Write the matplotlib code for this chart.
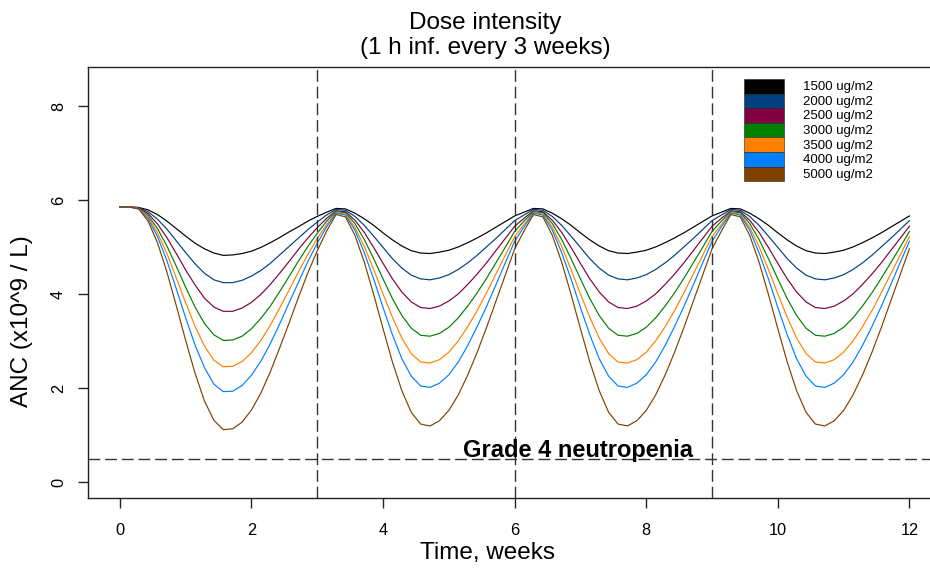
import numpy as np
import matplotlib
matplotlib.use("Agg")
from matplotlib import pyplot as plt
from matplotlib.patches import Rectangle

plt.rcParams['font.family'] = ['Liberation Sans', 'DejaVu Sans']

# time grid: one point per day over 12 weeks
weeks = np.arange(85) / 7

dose_labels = ["1500 ug/m2", "2000 ug/m2", "2500 ug/m2", "3000 ug/m2",
               "3500 ug/m2", "4000 ug/m2", "5000 ug/m2"]
dose_colors = ['#000000', '#004080', '#800040', '#008000', '#FF8000', '#0080FF', '#804000']

# ANC values (x10^9 / L), one row per 3-week cycle
anc_1500 = [5.86, 5.86, 5.85, 5.80, 5.70, 5.56, 5.40, 5.24, 5.09, 4.97, 4.88, 4.83, 4.84, 4.87, 4.92, 5.00, 5.10, 5.21, 5.33, 5.44, 5.56,
            5.66, 5.75, 5.83, 5.82, 5.73, 5.61, 5.47, 5.31, 5.16, 5.03, 4.93, 4.88, 4.87, 4.90, 4.94, 5.01, 5.10, 5.20, 5.31, 5.43, 5.55,
            5.67, 5.75, 5.83, 5.82, 5.73, 5.61, 5.47, 5.31, 5.16, 5.03, 4.93, 4.88, 4.87, 4.90, 4.94, 5.01, 5.10, 5.20, 5.31, 5.43, 5.55,
            5.67, 5.75, 5.83, 5.82, 5.73, 5.61, 5.47, 5.31, 5.16, 5.03, 4.93, 4.88, 4.87, 4.90, 4.94, 5.01, 5.10, 5.20, 5.31, 5.43, 5.55,
            5.67]
anc_2000 = [5.86, 5.86, 5.85, 5.76, 5.60, 5.39, 5.14, 4.89, 4.65, 4.45, 4.31, 4.25, 4.25, 4.30, 4.39, 4.51, 4.66, 4.84, 5.02, 5.20, 5.38,
            5.54, 5.69, 5.81, 5.79, 5.66, 5.47, 5.24, 5.00, 4.76, 4.56, 4.41, 4.33, 4.31, 4.35, 4.42, 4.53, 4.67, 4.83, 5.01, 5.19, 5.38,
            5.57, 5.69, 5.81, 5.79, 5.66, 5.47, 5.24, 5.00, 4.76, 4.56, 4.41, 4.33, 4.31, 4.35, 4.42, 4.53, 4.67, 4.83, 5.01, 5.19, 5.38,
            5.57, 5.69, 5.81, 5.79, 5.66, 5.47, 5.24, 5.00, 4.76, 4.56, 4.41, 4.33, 4.31, 4.35, 4.42, 4.53, 4.67, 4.83, 5.01, 5.19, 5.38,
            5.57]
anc_2500 = [5.86, 5.86, 5.84, 5.72, 5.50, 5.21, 4.87, 4.52, 4.20, 3.92, 3.73, 3.64, 3.64, 3.71, 3.83, 4.00, 4.21, 4.45, 4.70, 4.96, 5.20,
            5.42, 5.62, 5.78, 5.76, 5.58, 5.32, 5.00, 4.66, 4.33, 4.05, 3.84, 3.72, 3.70, 3.75, 3.86, 4.01, 4.21, 4.43, 4.67, 4.93, 5.19,
            5.45, 5.62, 5.78, 5.76, 5.58, 5.32, 5.00, 4.66, 4.33, 4.05, 3.84, 3.72, 3.70, 3.75, 3.86, 4.01, 4.21, 4.43, 4.67, 4.93, 5.19,
            5.45, 5.62, 5.78, 5.76, 5.58, 5.32, 5.00, 4.66, 4.33, 4.05, 3.84, 3.72, 3.70, 3.75, 3.86, 4.01, 4.21, 4.43, 4.67, 4.93, 5.19,
            5.45]
anc_3000 = [5.86, 5.86, 5.83, 5.68, 5.40, 5.03, 4.60, 4.15, 3.73, 3.38, 3.14, 3.02, 3.03, 3.11, 3.27, 3.49, 3.75, 4.06, 4.38, 4.71, 5.02,
            5.30, 5.56, 5.76, 5.74, 5.51, 5.17, 4.76, 4.33, 3.91, 3.55, 3.28, 3.13, 3.11, 3.17, 3.30, 3.50, 3.75, 4.03, 4.34, 4.67, 5.00,
            5.34, 5.56, 5.76, 5.74, 5.51, 5.17, 4.76, 4.33, 3.91, 3.55, 3.28, 3.13, 3.11, 3.17, 3.30, 3.50, 3.75, 4.03, 4.34, 4.67, 5.00,
            5.34, 5.56, 5.76, 5.74, 5.51, 5.17, 4.76, 4.33, 3.91, 3.55, 3.28, 3.13, 3.11, 3.17, 3.30, 3.50, 3.75, 4.03, 4.34, 4.67, 5.00,
            5.34]
anc_3500 = [5.86, 5.86, 5.83, 5.65, 5.31, 4.87, 4.35, 3.82, 3.32, 2.90, 2.60, 2.46, 2.47, 2.57, 2.76, 3.02, 3.34, 3.71, 4.09, 4.48, 4.85,
            5.19, 5.49, 5.74, 5.71, 5.43, 5.02, 4.53, 4.01, 3.51, 3.07, 2.74, 2.56, 2.54, 2.61, 2.77, 3.01, 3.31, 3.65, 4.03, 4.43, 4.83,
            5.23, 5.49, 5.74, 5.71, 5.43, 5.02, 4.53, 4.01, 3.51, 3.07, 2.74, 2.56, 2.54, 2.61, 2.77, 3.01, 3.31, 3.65, 4.03, 4.43, 4.83,
            5.23, 5.49, 5.74, 5.71, 5.43, 5.02, 4.53, 4.01, 3.51, 3.07, 2.74, 2.56, 2.54, 2.61, 2.77, 3.01, 3.31, 3.65, 4.03, 4.43, 4.83,
            5.23]
anc_4000 = [5.86, 5.86, 5.82, 5.61, 5.23, 4.72, 4.12, 3.50, 2.92, 2.44, 2.09, 1.93, 1.94, 2.06, 2.28, 2.58, 2.95, 3.37, 3.82, 4.26, 4.70,
            5.09, 5.44, 5.73, 5.69, 5.37, 4.89, 4.33, 3.72, 3.14, 2.63, 2.26, 2.05, 2.02, 2.11, 2.29, 2.56, 2.91, 3.31, 3.74, 4.20, 4.67,
            5.13, 5.44, 5.73, 5.69, 5.37, 4.89, 4.33, 3.72, 3.14, 2.63, 2.26, 2.05, 2.02, 2.11, 2.29, 2.56, 2.91, 3.31, 3.74, 4.20, 4.67,
            5.13, 5.44, 5.73, 5.69, 5.37, 4.89, 4.33, 3.72, 3.14, 2.63, 2.26, 2.05, 2.02, 2.11, 2.29, 2.56, 2.91, 3.31, 3.74, 4.20, 4.67,
            5.13]
anc_5000 = [5.86, 5.86, 5.82, 5.56, 5.10, 4.48, 3.76, 3.02, 2.32, 1.73, 1.32, 1.12, 1.14, 1.28, 1.54, 1.90, 2.35, 2.86, 3.39, 3.94, 4.46,
            4.93, 5.35, 5.70, 5.65, 5.26, 4.69, 4.00, 3.27, 2.56, 1.95, 1.49, 1.24, 1.20, 1.31, 1.53, 1.86, 2.28, 2.76, 3.29, 3.85, 4.41,
            4.97, 5.35, 5.70, 5.65, 5.26, 4.69, 4.00, 3.27, 2.56, 1.95, 1.49, 1.24, 1.20, 1.31, 1.53, 1.86, 2.28, 2.76, 3.29, 3.85, 4.41,
            4.97, 5.35, 5.70, 5.65, 5.26, 4.69, 4.00, 3.27, 2.56, 1.95, 1.49, 1.24, 1.20, 1.31, 1.53, 1.86, 2.28, 2.76, 3.29, 3.85, 4.41,
            4.97]
all_anc = [anc_1500, anc_2000, anc_2500, anc_3000, anc_3500, anc_4000, anc_5000]

dose_times = [3, 6, 9]
grade4_level = 0.5

fig = plt.figure(figsize=(9.3, 5.68), dpi=100)
ax = fig.add_axes([88.3 / 930, 69.7 / 568, 852.7 / 930, 431.3 / 568])
ax.set_xlim(-0.48, 12.48)
ax.set_ylim(-0.34, 8.84)

for anc, col in zip(all_anc, dose_colors):
    ax.plot(weeks, anc, color=col, lw=0.85)

for t in dose_times:
    ax.axvline(t, color='#333333', lw=1.0, dashes=(8.5, 3.5))
ax.axhline(grade4_level, color='#333333', lw=1.0, dashes=(8.5, 3.5))
ax.text(6.96, grade4_level + 0.03, "Grade 4 neutropenia", fontsize=17, fontweight='bold',
        ha='center', va='baseline')

ax.set_xticks(np.arange(0, 13, 2))
ax.set_yticks(np.arange(0, 9, 2))
ax.tick_params(axis='both', length=7, width=1, labelsize=11.8, color='#222222')
ax.tick_params(axis='x', pad=11)
ax.tick_params(axis='y', pad=9)
for lab in ax.get_yticklabels():
    lab.set_rotation(90)
    lab.set_va('center')
for side in ['left', 'bottom', 'top', 'right']:
    ax.spines[side].set_linewidth(1.0)
    ax.spines[side].set_color('#222222')

# titles and axis labels
fig.text(485 / 930, 1 - 23 / 568, "Dose intensity", fontsize=17.5, ha='center', va='center')
fig.text(485 / 930, 1 - 48 / 568, "(1 h inf. every 3 weeks)", fontsize=17.5, ha='center', va='center')
fig.text(487 / 930, 1 - 553 / 568, "Time, weeks", fontsize=17.5, ha='center', va='center')
fig.text(22 / 930, 1 - 321 / 568, "ANC (x10^9 / L)", fontsize=17.5, ha='center', va='center', rotation=90)

# legend: filled boxes stacked, no frame
row_h = 14.6
for i, (lab, col) in enumerate(zip(dose_labels, dose_colors)):
    top = 79 + i * row_h
    fig.add_artist(Rectangle((744 / 930, 1 - (top + row_h) / 568), 40 / 930, row_h / 568,
                             transform=fig.transFigure, facecolor=col, edgecolor='#222222', lw=0.4))
    fig.text(803 / 930, 1 - (top + row_h / 2 + 1) / 568, lab, fontsize=9.5, ha='left', va='center')

plt.savefig('out.png', dpi=100)
